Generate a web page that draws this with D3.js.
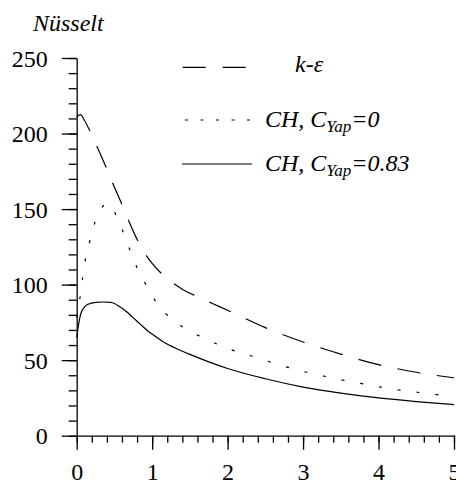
<!DOCTYPE html>
<html>
<head>
<meta charset="utf-8">
<script src="https://cdn.jsdelivr.net/npm/d3@7"></script>
<style>
  html, body { margin: 0; padding: 0; background: #fff; }
  svg { display: block; }
  svg text { font-family: "Liberation Serif", Tinos, "Times New Roman", "DejaVu Serif", serif; }
</style>
</head>
<body>
<div id="chart"></div>
<script>
// ---- data ----
const xTicks = [0, 1, 2, 3, 4, 5];
const xMinorTicks = d3.range(0, 5.001, 0.2).map(v => +v.toFixed(2));
const yTicks = [0, 50, 100, 150, 200, 250];
const yMinorTicks = d3.range(0, 250.001, 10);

const keX = [0, 0.05, 0.1, 0.2, 0.3, 0.4, 0.5, 0.6, 0.7, 0.8, 0.9, 1.0, 1.1, 1.2, 1.4, 1.6, 1.8, 2.0, 2.5, 3.0, 3.5, 4.0, 4.5, 5.0];
const keY = [211, 212.5, 209, 199, 188, 176.5, 164.5, 153, 141, 130, 121, 114, 108.5, 104, 97, 92, 87.5, 83, 71.5, 62, 54, 47, 42, 38.3];

const ch0X = [0, 0.02, 0.05, 0.08, 0.12, 0.18, 0.24, 0.3, 0.36, 0.42, 0.48, 0.53, 0.63, 0.72, 0.82, 0.94, 1.07, 1.25, 1.45, 1.67, 1.91, 2.15, 2.39, 2.64, 2.88, 3.13, 3.38, 3.62, 3.88, 4.11, 4.37, 4.63, 4.88, 5.0];
const ch0Y = [78, 86, 93, 105, 118, 130, 141, 148.5, 152.5, 153.8, 150.5, 144.6, 133, 121, 109, 98, 87, 77.7, 70.5, 65, 59.6, 55.2, 51.7, 47.5, 44.2, 40.9, 38.4, 35.8, 33.6, 31.4, 29.6, 28.1, 26.5, 25.8];

const ch83X = [0, 0.02, 0.05, 0.1, 0.15, 0.25, 0.35, 0.45, 0.5, 0.55, 0.65, 0.75, 0.85, 0.95, 1.05, 1.15, 1.3, 1.5, 1.75, 2.0, 2.5, 3.0, 3.5, 4.0, 4.5, 5.0];
const ch83Y = [65, 72, 80, 85, 87, 88.3, 88.5, 88.2, 87.5, 86, 82.5, 78, 73.5, 69, 65.5, 62, 58.2, 53.8, 48.9, 44.5, 37.7, 32.2, 28.2, 25, 22.6, 20.6];

const seriesNames = ["k-\u03b5", "CH, C", "CH, C"];

// ---- chart ----
const W = 456, H = 484;
const FS = 24;

const svg = d3.select("#chart").append("svg").attr("width", W).attr("height", H);

const x = d3.scaleLinear().domain([0, 5]).range([76.7, 454]);
const y = d3.scaleLinear().domain([0, 250]).range([435.7, 58]);

function styleAxis(g) {
  g.attr("font-family", null).attr("font-size", FS);
  g.selectAll("line").attr("stroke", "#000").attr("stroke-width", 1.3);
  g.select(".domain").attr("stroke", "#000").attr("stroke-width", 1.3);
  g.selectAll("text").attr("fill", "#000").attr("font-size", FS);
}

// y axis minor
svg.append("g").attr("transform", `translate(${x(0)},0)`)
  .call(d3.axisLeft(y).tickValues(yMinorTicks).tickSize(8).tickSizeOuter(0).tickFormat(""))
  .call(g => g.select(".domain").remove())
  .call(styleAxis);
// y axis major
svg.append("g").attr("transform", `translate(${x(0)},0)`)
  .call(d3.axisLeft(y).tickValues(yTicks).tickSize(15).tickSizeOuter(0).tickPadding(14).tickFormat(d3.format("d")))
  .call(styleAxis)
  .call(g => g.selectAll("text").attr("dy", "0.34em"));

// x axis minor
svg.append("g").attr("transform", `translate(0,${y(0)})`)
  .call(d3.axisBottom(x).tickValues(xMinorTicks).tickSize(7).tickSizeOuter(0).tickFormat(""))
  .call(g => g.select(".domain").remove())
  .call(styleAxis);
// x axis major
svg.append("g").attr("transform", `translate(0,${y(0)})`)
  .call(d3.axisBottom(x).tickValues(xTicks).tickSize(14).tickSizeOuter(0).tickPadding(13).tickFormat(d3.format("d")))
  .call(styleAxis);

// y title
svg.append("text").attr("x", 33).attr("y", 31).attr("font-size", FS)
  .attr("font-style", "italic").text("Nüsselt");

// curves
const line = d3.line().x(d => x(d[0])).y(d => y(d[1])).curve(d3.curveMonotoneX);
const series = [
  { xs: keX, ys: keY, dash: "23.5,16.5" },
  { xs: ch0X, ys: ch0Y, dash: "3,16" },
  { xs: ch83X, ys: ch83Y, dash: null }
];
series.forEach(s => {
  svg.append("path")
    .datum(d3.zip(s.xs, s.ys))
    .attr("d", line)
    .attr("fill", "none")
    .attr("stroke", "#000")
    .attr("stroke-width", 1.2)
    .attr("stroke-dasharray", s.dash);
});

// legend
const lg = svg.append("g");
lg.append("line").attr("x1", 182.7).attr("x2", 247.3).attr("y1", 67.3).attr("y2", 67.3)
  .attr("stroke", "#000").attr("stroke-width", 1.2).attr("stroke-dasharray", "23,17");
lg.append("line").attr("x1", 185).attr("x2", 250).attr("y1", 120).attr("y2", 120)
  .attr("stroke", "#000").attr("stroke-width", 1.2).attr("stroke-dasharray", "3,12.5");
lg.append("line").attr("x1", 182).attr("x2", 252).attr("y1", 164).attr("y2", 164)
  .attr("stroke", "#000").attr("stroke-width", 1.2);

lg.append("text").attr("x", 295).attr("y", 72).attr("font-size", FS)
  .attr("font-style", "italic").text(seriesNames[0]);

const t1 = lg.append("text").attr("x", 265).attr("y", 127).attr("font-size", FS).attr("font-style", "italic");
t1.append("tspan").text(seriesNames[1]);
t1.append("tspan").attr("dy", 5).attr("font-size", 17).text("Yap");
t1.append("tspan").attr("dy", -5).text("=0");

const t2 = lg.append("text").attr("x", 265).attr("y", 171).attr("font-size", FS).attr("font-style", "italic");
t2.append("tspan").text(seriesNames[2]);
t2.append("tspan").attr("dy", 5).attr("font-size", 17).text("Yap");
t2.append("tspan").attr("dy", -5).text("=0.83");
</script>
</body>
</html>
